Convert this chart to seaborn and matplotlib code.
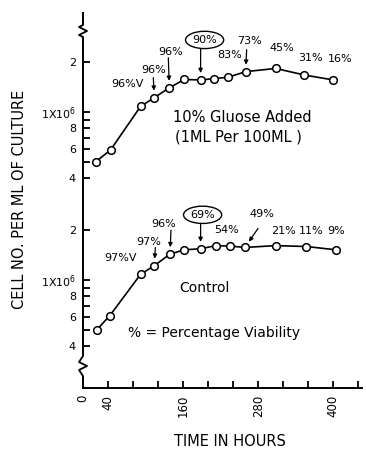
import matplotlib
matplotlib.use("Agg")
import matplotlib.pyplot as plt
import seaborn as sns
import pandas as pd
from matplotlib.lines import Line2D
from matplotlib.patches import Rectangle
from matplotlib.ticker import FixedLocator, FixedFormatter, NullFormatter

# ---------------- data ----------------
glucose_hours = [20, 44, 92, 114, 138, 162, 188, 210, 232, 260, 308, 354, 400]
glucose_cells = [0.50e6, 0.59e6, 1.08e6, 1.22e6, 1.40e6, 1.57e6, 1.56e6,
                 1.59e6, 1.62e6, 1.75e6, 1.83e6, 1.67e6, 1.56e6]
control_hours = [22, 43, 92, 114, 139, 162, 188, 212, 235, 259, 308, 357, 404]
control_cells = [0.50e6, 0.61e6, 1.08e6, 1.22e6, 1.43e6, 1.52e6, 1.54e6,
                 1.61e6, 1.60e6, 1.57e6, 1.61e6, 1.59e6, 1.52e6]

glucose_viability = ["96%V", "96%", "96%", "90%", "83%", "73%", "45%", "31%", "16%"]
glucose_viability_point = [2, 3, 4, 6, 8, 9, 10, 11, 12]
control_viability = ["97%V", "97%", "96%", "69%", "54%", "49%", "21%", "11%", "9%"]
control_viability_point = [2, 3, 4, 6, 8, 9, 10, 11, 12]

y_major_ticks = [4e5, 6e5, 8e5, 1e6, 2e6]
y_major_labels = ["4", "6", "8", "1X10$^6$", "2"]
y_minor_ticks = [5e5, 7e5, 9e5]
x_major_ticks = [0, 40, 160, 280, 400]
x_major_labels = ["0", "40", "160", "280", "400"]
x_minor_ticks = [80, 120, 200, 240, 320, 360, 440]

# ---------------- layout (styles / positions) ----------------
glucose_text_off = [(-13, 22), (-1, 28), (1, 36), (4, 40), (1, 22), (4, 31), (6, 20), (6, 17), (7, 21)]
glucose_arrow_off = [None, (-1, 20), (-1, 30), (0, 33), None, (1, 22), None, None, None]
glucose_circled = [False, False, False, True, False, False, False, False, False]
control_text_off = [(-20, 16), (-6, 24), (-6, 30), (2, 34), (-3, 16), (17, 33), (8, 15), (5, 16), (0, 19)]
control_arrow_off = [None, (1, 18), (1, 24), (0, 26), None, (13, 19), None, None, None]
control_circled = [False, False, False, True, False, False, False, False, False]

W, H = 366, 451
sns.set_style("white")
plt.rcParams["font.family"] = ["DejaVu Sans"]
plt.rcParams["text.color"] = "black"
plt.rcParams["axes.labelcolor"] = "black"
plt.rcParams["xtick.color"] = "black"
plt.rcParams["ytick.color"] = "black"

fig = plt.figure(figsize=(W / 100, H / 100), dpi=100)


def fx(px):
    return px / W


def fy(py):
    return 1 - py / H


ax_top = fig.add_axes([fx(83), fy(205), (362 - 83) / W, (205 - 13) / H])
ax_bot = fig.add_axes([fx(83), fy(388), (362 - 83) / W, (388 - 205) / H])
for a in (ax_top, ax_bot):
    a.set_facecolor("none")

line_kw = dict(color="black", linewidth=1.2, marker="o", markersize=5.5,
               markerfacecolor="white", markeredgecolor="black",
               markeredgewidth=1.1)

df_g = pd.DataFrame({"hours": glucose_hours, "cells": glucose_cells})
df_c = pd.DataFrame({"hours": control_hours, "cells": control_cells})
sns.lineplot(data=df_g, x="hours", y="cells", ax=ax_top, **line_kw)
sns.lineplot(data=df_c, x="hours", y="cells", ax=ax_bot, **line_kw)

for a, ylim in ((ax_top, (2.75e5, 3.95e6)), (ax_bot, (2.23e5, 2.83e6))):
    a.set_yscale("log")
    a.set_xlim(0, 446)
    a.set_ylim(*ylim)
    a.yaxis.set_major_locator(FixedLocator(y_major_ticks))
    a.yaxis.set_major_formatter(FixedFormatter(y_major_labels))
    a.yaxis.set_minor_locator(FixedLocator(y_minor_ticks))
    a.yaxis.set_minor_formatter(NullFormatter())
    a.tick_params(axis="y", which="both", left=True, direction="in", length=5,
                  width=1.3, labelsize=8, pad=5, colors="black")
    a.set_xlabel("")
    a.set_ylabel("")
    for s in ("top", "right"):
        a.spines[s].set_visible(False)
    a.spines["left"].set_linewidth(1.4)
    a.spines["left"].set_color("black")

ax_top.spines["bottom"].set_visible(False)
ax_top.tick_params(axis="x", which="both", bottom=False, labelbottom=False)

ax_bot.spines["bottom"].set_linewidth(1.4)
ax_bot.spines["bottom"].set_color("black")
ax_bot.set_xticks(x_major_ticks)
ax_bot.set_xticklabels(x_major_labels, rotation=90, fontsize=8.5)
ax_bot.xaxis.set_minor_locator(FixedLocator(x_minor_ticks))
ax_bot.tick_params(axis="x", which="both", bottom=True, direction="in", length=5,
                   width=1.3, pad=5, colors="black")


def add_labels(ax, hours, cells, labels, idx, toffs, aoffs, circ):
    for lab, i, to, ao, c in zip(labels, idx, toffs, aoffs, circ):
        xy = (hours[i], cells[i])
        bbox = None
        if c:
            bbox = dict(boxstyle="ellipse,pad=0.1", fc="white", ec="black", lw=1.0)
        ax.annotate(lab, xy=xy, xytext=to, textcoords="offset pixels",
                    ha="center", va="center", fontsize=8, color="black",
                    bbox=bbox, zorder=6)
        if ao is not None:
            ax.annotate("", xy=xy, xytext=ao, textcoords="offset pixels",
                        arrowprops=dict(arrowstyle="-|>", lw=0.9, color="black",
                                        shrinkA=0, shrinkB=5, mutation_scale=6),
                        zorder=5)


add_labels(ax_top, glucose_hours, glucose_cells, glucose_viability,
           glucose_viability_point, glucose_text_off, glucose_arrow_off, glucose_circled)
add_labels(ax_bot, control_hours, control_cells, control_viability,
           control_viability_point, control_text_off, control_arrow_off, control_circled)

# panel texts
fig.text(fx(173), fy(117), "10% Gluose Added", fontsize=10.5, ha="left", va="center")
fig.text(fx(175), fy(137), "(1ML Per 100ML )", fontsize=10.5, ha="left", va="center")
fig.text(fx(204), fy(288), "Control", fontsize=10, ha="center", va="center")
fig.text(fx(128), fy(333), "% = Percentage Viability", fontsize=10, ha="left", va="center")

# axis titles
fig.text(fx(20), fy(199), "CELL NO. PER ML OF CULTURE", rotation=90,
         fontsize=10.5, ha="center", va="center")
fig.text(fx(230), fy(442), "TIME IN HOURS", fontsize=10.5, ha="center", va="center")

# axis break marks
tf = fig.transFigure
for (y0, y1) in ((25, 37), (356, 376)):
    fig.add_artist(Rectangle((fx(76), fy(y1)), 14 / W, (y1 - y0) / H,
                             transform=tf, facecolor="white", edgecolor="none", zorder=5))
    ym = (y0 + y1) / 2
    zx = [83, 79, 87, 79, 83]
    zy = [y0, ym - 4, ym, ym + 4, y1]
    fig.add_artist(Line2D([fx(v) for v in zx], [fy(v) for v in zy], transform=tf,
                          color="black", lw=1.3, zorder=6))

fig.savefig("out.png", dpi=100)
